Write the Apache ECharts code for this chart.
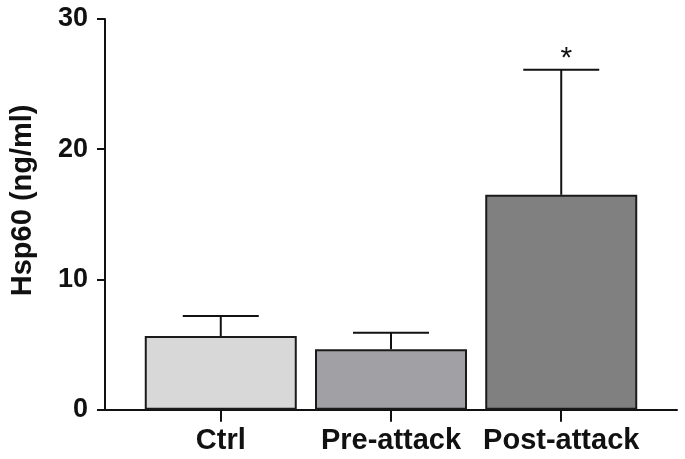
<!DOCTYPE html>
<html>
<head>
<meta charset="utf-8">
<script src="https://cdn.jsdelivr.net/npm/echarts@6/dist/echarts.min.js"></script>
<style>html,body{margin:0;padding:0;background:#fff}#c{width:685px;height:459px}</style>
</head>
<body>
<div id="c"></div>
<script>
const categories = ['Ctrl', 'Pre-attack', 'Post-attack'];
const means = [5.65, 4.65, 16.5];
const errors = [1.55, 1.25, 9.6];
const sigMarks = ['', '', '*'];
const barColors = ['#d8d8d8', '#a1a1a5', '#808080'];
const yTicks = [0, 10, 20, 30];

const chart = echarts.init(document.getElementById('c'));
const FONT = '"Liberation Sans", Arial, sans-serif';
chart.setOption({
  animation: false,
  grid: { left: 103, right: 8, top: 19, bottom: 49.3 },
  xAxis: {
    type: 'value', min: -0.68, max: 2.68,
    splitLine: { show: false },
    axisLine: { show: true, onZero: false, lineStyle: { color: '#111', width: 2 } },
    axisTick: { show: true, customValues: [0, 1, 2], length: 12, lineStyle: { color: '#111', width: 2 } },
    axisLabel: {
      customValues: [0, 1, 2], margin: 17,
      formatter: v => categories[Math.round(v)],
      color: '#111', fontSize: 29, fontWeight: 'bold', fontFamily: FONT
    }
  },
  yAxis: {
    type: 'value', min: yTicks[0], max: yTicks[yTicks.length - 1], interval: 10,
    name: 'Hsp60 (ng/ml)', nameLocation: 'middle', nameGap: 68,
    nameTextStyle: { color: '#111', fontSize: 29, fontWeight: 'bold', fontFamily: FONT, padding: [0, 0, 0, 28] },
    splitLine: { show: false },
    axisLine: { show: true, onZero: false, lineStyle: { color: '#111', width: 2 } },
    axisTick: { show: true, length: 8, lineStyle: { color: '#111', width: 2 } },
    axisLabel: { margin: 17, color: '#111', fontSize: 27, fontWeight: 'bold', fontFamily: FONT }
  },
  series: [
    {
      type: 'bar', barWidth: 152,
      data: means.map((m, i) => ({ value: [i, m], itemStyle: { color: barColors[i] } })),
      itemStyle: { borderColor: '#1a1a1a', borderWidth: 2 },
      z: 2
    },
    {
      type: 'custom',
      data: means.map((m, i) => [i, m, m + errors[i]]),
      z: 3,
      renderItem: function (params, api) {
        const i = api.value(0);
        const base = api.coord([i, api.value(1)]);
        const top = api.coord([i, api.value(2)]);
        const half = 38;
        const children = [
          { type: 'line', shape: { x1: base[0], y1: base[1], x2: top[0], y2: top[1] }, style: { stroke: '#111', lineWidth: 2 } },
          { type: 'line', shape: { x1: top[0] - half, y1: top[1], x2: top[0] + half, y2: top[1] }, style: { stroke: '#111', lineWidth: 2 } }
        ];
        const mark = sigMarks[params.dataIndex];
        if (mark) {
          children.push({ type: 'text', style: { text: mark, x: top[0] + 5, y: top[1] + 4, align: 'center', verticalAlign: 'bottom', fontSize: 30, fontFamily: FONT, fill: '#111' } });
        }
        return { type: 'group', children: children };
      }
    }
  ]
});
</script>
</body>
</html>
